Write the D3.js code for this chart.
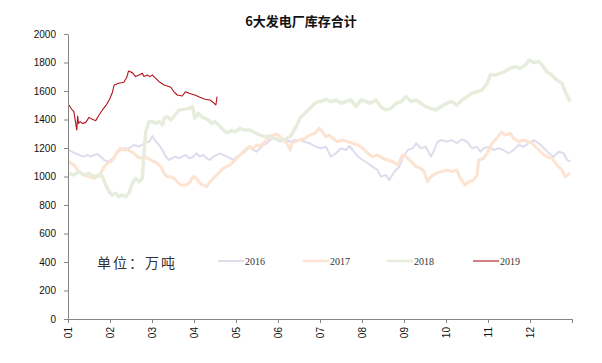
<!DOCTYPE html>
<html><head><meta charset="utf-8">
<script src="https://cdn.jsdelivr.net/npm/d3@7"></script>
<style>body{margin:0;background:#fff}</style>
</head><body><svg id="c" width="602" height="363"></svg>
<script>
const title = "6大发电厂库存合计";
const unitLabel = "单位：万吨";
const monthLabels = ["01","02","03","04","05","06","07","08","09","10","11","12"];
const yTicks = [0,200,400,600,800,1000,1200,1400,1600,1800,2000];
const seriesNames = ["2016","2017","2018","2019"];

// [month position (0 = Jan 1, 12 = Dec 31), stock in 10k tonnes]
const s2016 = [[0.02,1186],[0.14,1167],[0.26,1151],[0.38,1139],[0.46,1151],[0.54,1139],[0.62,1151],[0.70,1158],[0.78,1139],[0.86,1116],[0.94,1104],[1.02,1116],[1.10,1139],[1.17,1163],[1.25,1186],[1.33,1198],[1.45,1198],[1.57,1221],[1.69,1209],[1.81,1233],[1.93,1244],[2.01,1284],[2.09,1244],[2.17,1221],[2.25,1186],[2.33,1139],[2.40,1116],[2.48,1128],[2.56,1139],[2.64,1128],[2.72,1139],[2.80,1151],[2.88,1128],[2.98,1139],[3.06,1163],[3.14,1139],[3.22,1151],[3.30,1128],[3.38,1116],[3.46,1139],[3.54,1151],[3.62,1163],[3.70,1151],[3.78,1139],[3.86,1128],[3.94,1116],[4.02,1139],[4.10,1151],[4.17,1163],[4.25,1186],[4.33,1205],[4.41,1186],[4.49,1174],[4.57,1198],[4.65,1221],[4.73,1233],[4.81,1256],[4.89,1268],[4.97,1256],[5.05,1244],[5.17,1256],[5.29,1244],[5.40,1256],[5.52,1256],[5.64,1244],[5.76,1233],[5.90,1209],[6.02,1198],[6.14,1209],[6.26,1139],[6.38,1163],[6.50,1198],[6.62,1186],[6.70,1214],[6.78,1186],[6.90,1139],[7.02,1116],[7.14,1093],[7.25,1069],[7.37,1046],[7.45,999],[7.57,1011],[7.65,975],[7.77,1034],[7.89,1069],[7.98,1139],[8.09,1186],[8.21,1198],[8.29,1233],[8.40,1198],[8.52,1209],[8.64,1139],[8.72,1186],[8.80,1244],[8.90,1256],[9.02,1244],[9.14,1256],[9.26,1233],[9.38,1261],[9.50,1244],[9.62,1198],[9.74,1209],[9.82,1174],[9.90,1198],[10.02,1209],[10.14,1186],[10.25,1198],[10.37,1186],[10.49,1163],[10.61,1186],[10.73,1221],[10.85,1209],[10.97,1233],[11.09,1256],[11.21,1233],[11.33,1198],[11.45,1163],[11.56,1139],[11.68,1174],[11.80,1163],[11.88,1116],[11.96,1104]];

const s2017 = [[0.02,1104],[0.14,1081],[0.26,1034],[0.38,1011],[0.50,999],[0.62,987],[0.70,999],[0.78,1022],[0.86,1069],[0.94,1093],[1.02,1104],[1.10,1128],[1.17,1174],[1.25,1198],[1.33,1186],[1.41,1191],[1.49,1174],[1.57,1163],[1.65,1139],[1.73,1128],[1.81,1139],[1.89,1128],[1.97,1116],[2.05,1104],[2.13,1093],[2.21,1069],[2.29,1022],[2.36,999],[2.45,999],[2.52,987],[2.60,963],[2.68,940],[2.80,940],[2.88,952],[2.98,999],[3.06,987],[3.14,952],[3.22,940],[3.30,929],[3.38,963],[3.46,987],[3.54,1011],[3.62,1034],[3.70,1058],[3.78,1069],[3.86,1081],[3.94,1104],[4.02,1128],[4.10,1151],[4.17,1174],[4.25,1198],[4.33,1209],[4.41,1198],[4.49,1221],[4.57,1214],[4.65,1233],[4.73,1256],[4.81,1279],[4.89,1291],[4.97,1298],[5.05,1279],[5.13,1256],[5.21,1233],[5.29,1186],[5.33,1233],[5.40,1244],[5.52,1256],[5.64,1268],[5.76,1291],[5.88,1303],[5.98,1338],[6.06,1314],[6.14,1279],[6.22,1291],[6.30,1268],[6.42,1244],[6.54,1256],[6.66,1244],[6.78,1233],[6.90,1221],[7.02,1198],[7.14,1163],[7.25,1139],[7.37,1151],[7.49,1128],[7.61,1116],[7.73,1104],[7.85,1081],[7.97,1151],[8.05,1139],[8.17,1104],[8.29,1069],[8.40,1058],[8.48,1034],[8.56,963],[8.64,999],[8.76,1022],[8.88,1034],[9.02,1046],[9.14,1034],[9.26,1046],[9.34,987],[9.46,940],[9.54,963],[9.66,975],[9.74,1011],[9.78,1116],[9.90,1128],[10.02,1186],[10.10,1233],[10.21,1268],[10.32,1314],[10.40,1291],[10.53,1303],[10.61,1268],[10.73,1244],[10.85,1256],[10.95,1244],[11.05,1233],[11.17,1198],[11.29,1163],[11.40,1139],[11.52,1128],[11.64,1081],[11.76,1046],[11.84,999],[11.95,1022]];

const s2018 = [[0.02,1022],[0.14,1011],[0.26,1034],[0.38,1011],[0.50,1022],[0.62,999],[0.74,1011],[0.82,999],[0.90,940],[0.98,893],[1.05,870],[1.14,882],[1.21,858],[1.29,870],[1.37,858],[1.45,882],[1.53,952],[1.61,987],[1.69,963],[1.77,987],[1.81,1163],[1.85,1314],[1.93,1385],[2.01,1385],[2.09,1373],[2.17,1385],[2.25,1361],[2.29,1408],[2.36,1420],[2.45,1397],[2.52,1420],[2.64,1467],[2.76,1471],[2.88,1478],[2.96,1490],[3.02,1408],[3.10,1443],[3.18,1420],[3.26,1408],[3.34,1397],[3.42,1373],[3.50,1385],[3.58,1361],[3.66,1338],[3.74,1314],[3.82,1308],[3.90,1322],[3.98,1314],[4.10,1338],[4.21,1326],[4.33,1326],[4.45,1308],[4.57,1291],[4.69,1279],[4.81,1284],[4.93,1268],[5.05,1256],[5.17,1261],[5.29,1279],[5.36,1314],[5.45,1361],[5.52,1408],[5.64,1443],[5.76,1478],[5.88,1514],[5.96,1526],[6.02,1526],[6.14,1542],[6.26,1526],[6.38,1537],[6.50,1514],[6.62,1526],[6.74,1537],[6.86,1490],[6.98,1537],[7.10,1526],[7.21,1514],[7.33,1537],[7.45,1490],[7.57,1467],[7.69,1478],[7.81,1514],[7.93,1526],[8.05,1560],[8.17,1526],[8.29,1537],[8.40,1514],[8.52,1490],[8.64,1478],[8.76,1467],[8.88,1490],[9.02,1514],[9.14,1526],[9.26,1502],[9.38,1537],[9.50,1560],[9.62,1584],[9.74,1595],[9.86,1607],[9.98,1654],[10.05,1712],[10.17,1712],[10.29,1724],[10.40,1736],[10.53,1759],[10.65,1771],[10.77,1759],[10.89,1782],[10.98,1817],[11.09,1800],[11.21,1806],[11.29,1782],[11.40,1736],[11.52,1712],[11.64,1677],[11.76,1654],[11.84,1595],[11.95,1526]];

const s2019 = [[0.02,1502],[0.10,1467],[0.14,1455],[0.17,1397],[0.21,1326],[0.23,1425],[0.25,1373],[0.29,1385],[0.34,1373],[0.42,1378],[0.50,1415],[0.58,1401],[0.66,1392],[0.74,1432],[0.82,1467],[0.90,1497],[0.98,1537],[1.05,1584],[1.10,1642],[1.21,1654],[1.33,1661],[1.40,1696],[1.44,1740],[1.53,1729],[1.61,1701],[1.69,1712],[1.77,1724],[1.81,1701],[1.89,1712],[1.95,1701],[2.01,1712],[2.09,1689],[2.17,1665],[2.29,1642],[2.45,1626],[2.52,1595],[2.60,1572],[2.72,1565],[2.80,1595],[2.88,1584],[3.02,1572],[3.14,1556],[3.26,1542],[3.38,1537],[3.46,1518],[3.52,1502],[3.55,1560]];

const seriesData = [s2016, s2017, s2018, s2019];
const seriesColors = ["#dfdcee","#fde3d1","#e7eddc","#b0141c"];
const seriesWidths = [2, 3, 3.5, 1.1];

const svg = d3.select("#c");
const x = d3.scaleLinear().domain([0,12]).range([68,572]);
const y = d3.scaleLinear().domain([0,2000]).range([319,34]);

svg.append("text").attr("x",301).attr("y",26).attr("text-anchor","middle")
  .attr("font-family","'Noto Sans CJK SC', sans-serif").attr("font-weight","bold")
  .attr("font-size",13).attr("fill","#111").text(title);

// lines
const line = d3.line().x(d=>x(d[0])).y(d=>y(d[1]));
seriesData.forEach((s,i)=>{
  svg.append("path").datum(s).attr("d",line).attr("fill","none")
    .attr("stroke",seriesColors[i]).attr("stroke-width",seriesWidths[i])
    .attr("stroke-linejoin","round");
});

// y axis
const ya = svg.append("g").attr("transform","translate(68,0)")
  .call(d3.axisLeft(y).tickValues(yTicks).tickFormat(d3.format("d")).tickSize(4).tickSizeOuter(0).tickPadding(8));
ya.select(".domain").attr("stroke","#868686");
ya.selectAll(".tick line").attr("stroke","#868686");
ya.selectAll("text").attr("font-family","'Liberation Sans', Arial, sans-serif").attr("font-size",10).attr("fill","#111");

// x axis
const xa = svg.append("g").attr("transform","translate(0,319)")
  .call(d3.axisBottom(x).tickValues(d3.range(0,13)).tickSize(4).tickSizeOuter(0)
    .tickFormat(d=> d<12 ? monthLabels[d] : ""));
xa.select(".domain").attr("stroke","#868686");
xa.selectAll(".tick line").attr("stroke","#868686");
xa.selectAll("text").attr("font-family","'Liberation Sans', Arial, sans-serif").attr("font-size",10).attr("fill","#111")
  .attr("transform","rotate(-90)").attr("text-anchor","end").attr("x",-8).attr("y",0).attr("dy","0.35em");

// unit label
svg.append("text").attr("x",97).attr("y",268).attr("font-family","'Noto Sans CJK SC', sans-serif")
  .attr("font-size",14).attr("letter-spacing",2).attr("fill","#333").text(unitLabel);

// legend
const legX = [218,303,387,473];
seriesNames.forEach((n,i)=>{
  const g = svg.append("g").attr("transform",`translate(${legX[i]},261)`);
  g.append("line").attr("x1",0).attr("x2",26).attr("y1",0).attr("y2",0)
    .attr("stroke",seriesColors[i]).attr("stroke-width",Math.min(seriesWidths[i],2.5));
  g.append("text").attr("x",27).attr("y",3.5).attr("font-family","'Liberation Serif', serif")
    .attr("font-size",10).attr("fill","#333").text(n);
});
</script></body></html>
